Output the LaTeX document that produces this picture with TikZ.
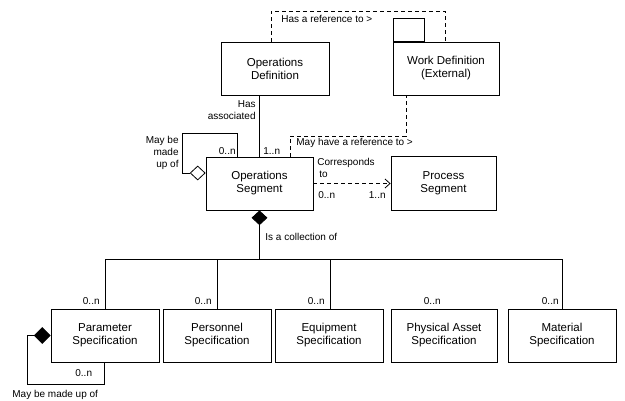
\documentclass[tikz,border=0pt]{standalone}
\usepackage{fontspec}
\setmainfont{Liberation Sans}
\usetikzlibrary{shapes.geometric,arrows.meta}
\begin{document}
\begin{tikzpicture}[x=1pt,y=-1pt,line width=0.8pt,
  box/.style={draw,rectangle,minimum width=108pt,minimum height=53pt,inner sep=1pt,align=center,font=\fontsize{11.5}{13}\selectfont},
  lbl/.style={inner sep=0pt,font=\fontsize{10}{12}\selectfont},
  dsh/.style={dash pattern=on 4pt off 3pt},
  hdia/.style={draw,diamond,fill=white,minimum width=15pt,minimum height=14pt,inner sep=0pt},
  fdia/.style={draw,diamond,fill=black,minimum width=15pt,minimum height=15pt,inner sep=0pt}]
\useasboundingbox (0,0) rectangle (625,401);
% boxes
\node[box] (opdef) at (275,68.5) {Operations\\Definition};
\node[box,minimum width=106pt] (workdef) at (446,68.5) {Work Definition\\(External)};
\node[draw,rectangle,minimum width=31pt,minimum height=23pt,inner sep=0pt,anchor=south west] (tab) at (workdef.north west) {};
\node[box,minimum width=107pt] (opseg) at (259.5,183.5) {Operations\\Segment};
\node[box,minimum width=105pt,minimum height=54pt] (procseg) at (443.5,183.5) {Process\\Segment};
\node[box] (param) at (105,335.5) {Parameter\\Specification};
\node[box] (pers) at (217,335.5) {Personnel\\Specification};
\node[box] (equip) at (329,335.5) {Equipment\\Specification};
\node[box,minimum width=106pt] (phys) at (444,335.5) {Physical Asset\\Specification};
\node[box] (mat) at (562,335.5) {Material\\Specification};
% coordinates
\coordinate (reftop) at (445,11);
\coordinate (mh) at (406,136);
\coordinate (lp1) at (182,133);
\coordinate (bus) at (0,259);
\coordinate (lp2) at (27,384);
% has a reference to
\draw[dsh] ([xshift=-4pt]opdef.north) |- (reftop) -- (reftop |- workdef.north);
\node[lbl,anchor=west] (l1) at (281,19) {Has a reference to >};
% has associated
\draw (opseg.north) -- (opseg.north |- opdef.south);
\node[lbl,anchor=east,align=right] (l2) at (256,110) {Has\\associated};
\node[lbl,anchor=west] (l3) at (263,151) {1..n};
% self aggregation of operations segment
\node[hdia,anchor=east] (dia1) at ([yshift=10.5pt]opseg.west) {};
\draw (dia1.west) -| (lp1) -| ([xshift=-22.5pt]opseg.north);
\node[lbl,anchor=east] (l4) at (236,151) {0..n};
\node[lbl,anchor=east,align=right] (l5) at (179,153) {May be\\made\\up of};
% may have a reference to
\draw[dsh] ([xshift=30.5pt]opseg.north) |- (mh) -- (mh |- workdef.south);
\node[lbl,anchor=west] (l6) at (296,143) {May have a reference to >};
% corresponds to
\draw[dsh,-{Straight Barb[length=5pt,width=9pt]}] (opseg.east) -- (procseg.west);
\node[lbl,anchor=west,align=left] (l7) at (317,168) {Corresponds\\\hspace{2pt}to};
\node[lbl,anchor=west] (l8) at (318,195) {0..n};
\node[lbl,anchor=east] (l9) at (386,195) {1..n};
% collection
\node[fdia,minimum height=14pt,anchor=north] (dia2) at (opseg.south) {};
\draw (dia2.south) -- (dia2.south |- bus);
\node[lbl,anchor=west] (l10) at (265,237) {Is a collection of};
\draw (param.north) -- (param.north |- bus) -- (mat.north |- bus) -- (mat.north);
\draw (pers.north) -- (pers.north |- bus);
\draw ([xshift=1pt]equip.north) -- ([xshift=1pt]equip.north |- bus);
\node[lbl,anchor=east] (m1) at (100,301) {0..n};
\node[lbl,anchor=east] (m2) at (212,301) {0..n};
\node[lbl,anchor=east] (m3) at (325,301) {0..n};
\node[lbl,anchor=east] (m4) at (441,301) {0..n};
\node[lbl,anchor=east] (m5) at (559,301) {0..n};
% parameter self aggregation
\node[fdia,minimum width=16pt,minimum height=16pt,anchor=east] (dia3) at (param.west) {};
\draw (dia3.west) -| (lp2) -| ([xshift=-1pt]param.south);
\node[lbl,anchor=west] (l11) at (75,373) {0..n};
\node[lbl,anchor=west] (l12) at (12,395) {May be made up of};
\end{tikzpicture}
\end{document}
